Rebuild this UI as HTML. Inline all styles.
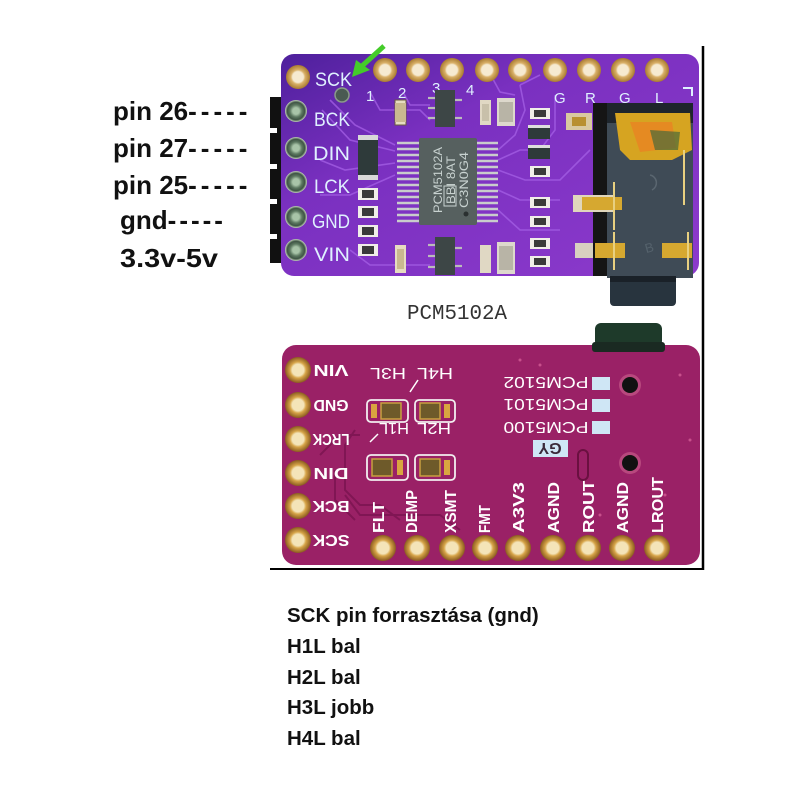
<!DOCTYPE html>
<html><head><meta charset="utf-8"><style>
html,body{margin:0;padding:0;background:#fff;}
svg{display:block;}
</style></head><body>
<svg width="800" height="800" viewBox="0 0 800 800" xmlns="http://www.w3.org/2000/svg">
<defs>
<linearGradient id="tg" x1="0" y1="0" x2="1" y2="1">
<stop offset="0" stop-color="#4e209c"/><stop offset="0.35" stop-color="#7a30c0"/><stop offset="1" stop-color="#8c3acc"/>
</linearGradient>
<radialGradient id="gold" cx="0.5" cy="0.5" r="0.5">
<stop offset="0.45" stop-color="#f6ead0"/><stop offset="0.6" stop-color="#d9b068"/><stop offset="1" stop-color="#a87a30"/>
</radialGradient>
<radialGradient id="gold2" cx="0.5" cy="0.5" r="0.5">
<stop offset="0.45" stop-color="#f4e4b8"/><stop offset="0.62" stop-color="#d6a448"/><stop offset="1" stop-color="#8a5a20"/>
</radialGradient>
<radialGradient id="grn" cx="0.5" cy="0.5" r="0.5">
<stop offset="0.3" stop-color="#a8c4a8"/><stop offset="0.55" stop-color="#5c7860"/><stop offset="0.8" stop-color="#3e5444"/><stop offset="1" stop-color="#c8d8c0"/>
</radialGradient>
</defs>
<rect width="800" height="800" fill="#fff"/>

<!-- left labels -->
<g font-family="Liberation Sans, sans-serif" font-weight="bold" font-size="26" fill="#111">
<text x="113" y="120">pin 26<tspan letter-spacing="4">-----</tspan></text>
<text x="113" y="157">pin 27<tspan letter-spacing="4">-----</tspan></text>
<text x="113" y="194">pin 25<tspan letter-spacing="4">-----</tspan></text>
<text x="120" y="229">gnd<tspan letter-spacing="3">-----</tspan></text>
<text x="120" y="267" textLength="98" lengthAdjust="spacingAndGlyphs">3.3v-5v</text>
</g>

<!-- header black strip -->
<rect x="270" y="97" width="14" height="166" fill="#111"/>
<g fill="#fff">
<rect x="270" y="128" width="7" height="5"/><rect x="270" y="164" width="7" height="5"/>
<rect x="270" y="199" width="7" height="5"/><rect x="270" y="234" width="7" height="5"/>
</g>

<!-- TOP BOARD -->
<rect x="281" y="54" width="418" height="222" rx="13" fill="url(#tg)"/>
<g stroke="#a560e6" stroke-width="1.6" fill="none" opacity="0.75">
<polyline points="330,100 355,125 395,145"/>
<polyline points="322,110 350,140 395,151"/>
<polyline points="320,160 345,170 395,163"/>
<polyline points="320,195 350,195 395,175"/>
<polyline points="370,92 380,110 420,110 430,120"/>
<polyline points="403,92 410,105 430,105"/>
<polyline points="498,150 515,135 525,110 520,85"/>
<polyline points="498,160 520,150 540,150 555,130 555,95"/>
<polyline points="498,170 525,180 560,180 590,150"/>
<polyline points="498,190 520,200 560,200"/>
<polyline points="498,210 520,230 560,230"/>
<polyline points="350,250 370,265 430,265"/>
<polyline points="520,85 540,75"/>
<polyline points="488,70 500,92 515,95"/>
</g>

<g>
<circle cx="298" cy="77" r="12" fill="url(#gold)"/>
<circle cx="385" cy="70" r="12" fill="url(#gold)"/>
<circle cx="418" cy="70" r="12" fill="url(#gold)"/>
<circle cx="452" cy="70" r="12" fill="url(#gold)"/>
<circle cx="487" cy="70" r="12" fill="url(#gold)"/>
<circle cx="520" cy="70" r="12" fill="url(#gold)"/>
<circle cx="555" cy="70" r="12" fill="url(#gold)"/>
<circle cx="589" cy="70" r="12" fill="url(#gold)"/>
<circle cx="623" cy="70" r="12" fill="url(#gold)"/>
<circle cx="657" cy="70" r="12" fill="url(#gold)"/>
</g>
<g>
<circle cx="296" cy="111" r="11" fill="url(#grn)"/>
<circle cx="296" cy="148" r="11" fill="url(#grn)"/>
<circle cx="296" cy="182" r="11" fill="url(#grn)"/>
<circle cx="296" cy="217" r="11" fill="url(#grn)"/>
<circle cx="296" cy="250" r="11" fill="url(#grn)"/>
</g>
<circle cx="342" cy="95" r="7" fill="#4a5a52" stroke="#8a9a8a" stroke-width="1.5"/>

<g font-family="Liberation Sans, sans-serif" font-size="19" fill="#dff0ff">
<text x="315" y="86" textLength="37" lengthAdjust="spacingAndGlyphs">SCK</text>
<text x="314" y="126" textLength="36" lengthAdjust="spacingAndGlyphs">BCK</text>
<text x="313" y="160" textLength="37" lengthAdjust="spacingAndGlyphs">DIN</text>
<text x="314" y="193" textLength="36" lengthAdjust="spacingAndGlyphs">LCK</text>
<text x="312" y="228" textLength="38" lengthAdjust="spacingAndGlyphs">GND</text>
<text x="314" y="261" textLength="36" lengthAdjust="spacingAndGlyphs">VIN</text>
</g>
<g font-family="Liberation Sans, sans-serif" font-size="15" fill="#dff0ff">
<text x="366" y="101">1</text>
<text x="398" y="98">2</text>
<text x="432" y="93">3</text>
<text x="466" y="95">4</text>
<text x="554" y="103">G</text>
<text x="585" y="103">R</text>
<text x="619" y="103">G</text>
<text x="655" y="103">L</text>
</g>
<polyline points="683,88 692,88 692,96" fill="none" stroke="#dff0ff" stroke-width="2"/>

<!-- IC -->
<g stroke="#c9cccc" stroke-width="2.6">
<line x1="397" y1="143" x2="420" y2="143"/><line x1="397" y1="149" x2="420" y2="149"/>
<line x1="397" y1="155" x2="420" y2="155"/><line x1="397" y1="161" x2="420" y2="161"/>
<line x1="397" y1="167" x2="420" y2="167"/><line x1="397" y1="173" x2="420" y2="173"/>
<line x1="397" y1="179" x2="420" y2="179"/><line x1="397" y1="185" x2="420" y2="185"/>
<line x1="397" y1="191" x2="420" y2="191"/><line x1="397" y1="197" x2="420" y2="197"/>
<line x1="397" y1="203" x2="420" y2="203"/><line x1="397" y1="209" x2="420" y2="209"/>
<line x1="397" y1="215" x2="420" y2="215"/><line x1="397" y1="221" x2="420" y2="221"/>
<line x1="476" y1="143" x2="498" y2="143"/><line x1="476" y1="149" x2="498" y2="149"/>
<line x1="476" y1="155" x2="498" y2="155"/><line x1="476" y1="161" x2="498" y2="161"/>
<line x1="476" y1="167" x2="498" y2="167"/><line x1="476" y1="173" x2="498" y2="173"/>
<line x1="476" y1="179" x2="498" y2="179"/><line x1="476" y1="185" x2="498" y2="185"/>
<line x1="476" y1="191" x2="498" y2="191"/><line x1="476" y1="197" x2="498" y2="197"/>
<line x1="476" y1="203" x2="498" y2="203"/><line x1="476" y1="209" x2="498" y2="209"/>
<line x1="476" y1="215" x2="498" y2="215"/><line x1="476" y1="221" x2="498" y2="221"/>
</g>
<rect x="419" y="138" width="58" height="87" rx="2" fill="#56605f"/>
<circle cx="466" cy="214" r="2.5" fill="#2a3030"/>
<g font-family="Liberation Sans, sans-serif" font-size="12" fill="#c8d2d0" text-anchor="middle">
<text transform="translate(442,180) rotate(-90)" textLength="66" lengthAdjust="spacingAndGlyphs">PCM5102A</text>
<text transform="translate(455,180) rotate(-90)" textLength="48" lengthAdjust="spacingAndGlyphs">BBI 8AT</text>
<text transform="translate(468,180) rotate(-90)" textLength="56" lengthAdjust="spacingAndGlyphs">C3N0G4</text>
</g>
<rect x="444" y="186" width="12" height="20" fill="none" stroke="#c8d2d0" stroke-width="1"/>

<g stroke="#bbbbbb" stroke-width="2.2">
<line x1="428" y1="98" x2="436" y2="98"/><line x1="428" y1="108" x2="436" y2="108"/><line x1="428" y1="118" x2="436" y2="118"/>
<line x1="454" y1="100" x2="462" y2="100"/><line x1="454" y1="118" x2="462" y2="118"/>
<line x1="428" y1="245" x2="436" y2="245"/><line x1="428" y1="256" x2="436" y2="256"/><line x1="428" y1="267" x2="436" y2="267"/>
<line x1="454" y1="248" x2="462" y2="248"/><line x1="454" y1="266" x2="462" y2="266"/>
</g>
<rect x="435" y="90" width="20" height="37" fill="#3d4646"/>
<rect x="435" y="237" width="20" height="38" fill="#3d4646"/>

<g>
<rect x="395" y="100" width="11" height="25" fill="#e6dcc0" stroke="#6a5a40" stroke-width="1"/>
<rect x="395" y="103" width="11" height="19" fill="#c9b890"/>
<rect x="480" y="100" width="11" height="25" fill="#e0d8c4"/>
<rect x="482" y="104" width="7" height="17" fill="#c8c0aa"/>
<rect x="497" y="98" width="18" height="28" fill="#ddd8cc"/>
<rect x="499" y="102" width="14" height="20" fill="#b8b4a6"/>
<rect x="395" y="245" width="11" height="28" fill="#e6dcc0"/>
<rect x="397" y="249" width="7" height="20" fill="#c9b890"/>
<rect x="480" y="245" width="11" height="28" fill="#e0d8c4"/>
<rect x="497" y="242" width="18" height="32" fill="#ddd8cc"/>
<rect x="499" y="246" width="14" height="24" fill="#b8b4a6"/>

<rect x="358" y="135" width="20" height="45" fill="#2e3a3a"/>
<rect x="358" y="135" width="20" height="5" fill="#d8d8d8"/><rect x="358" y="175" width="20" height="5" fill="#d8d8d8"/>
<rect x="358" y="188" width="20" height="12" fill="#f0eee8"/><rect x="362" y="190" width="12" height="8" fill="#3a3a3a"/>
<rect x="358" y="206" width="20" height="12" fill="#f0eee8"/><rect x="362" y="208" width="12" height="8" fill="#3a3a3a"/>
<rect x="358" y="225" width="20" height="12" fill="#f0eee8"/><rect x="362" y="227" width="12" height="8" fill="#3a3a3a"/>
<rect x="358" y="244" width="20" height="12" fill="#f0eee8"/><rect x="362" y="246" width="12" height="8" fill="#3a3a3a"/>

<rect x="530" y="108" width="20" height="11" fill="#f0eee8"/><rect x="534" y="110" width="12" height="7" fill="#3a3a3a"/>
<rect x="528" y="125" width="22" height="14" fill="#2e3a3a"/><rect x="528" y="125" width="22" height="3" fill="#ddd"/>
<rect x="528" y="145" width="22" height="14" fill="#2e3a3a"/><rect x="528" y="145" width="22" height="3" fill="#ddd"/>
<rect x="530" y="166" width="20" height="11" fill="#f0eee8"/><rect x="534" y="168" width="12" height="7" fill="#3a3a3a"/>
<rect x="530" y="197" width="20" height="11" fill="#f0eee8"/><rect x="534" y="199" width="12" height="7" fill="#3a3a3a"/>
<rect x="530" y="216" width="20" height="11" fill="#f0eee8"/><rect x="534" y="218" width="12" height="7" fill="#3a3a3a"/>
<rect x="530" y="238" width="20" height="11" fill="#f0eee8"/><rect x="534" y="240" width="12" height="7" fill="#3a3a3a"/>
<rect x="530" y="256" width="20" height="11" fill="#f0eee8"/><rect x="534" y="258" width="12" height="7" fill="#3a3a3a"/>
</g>

<!-- Audio jack -->
<rect x="593" y="103" width="14" height="173" fill="#151515"/>
<rect x="607" y="103" width="86" height="175" fill="#3f4b56"/>
<rect x="607" y="103" width="86" height="20" fill="#1e252c"/>
<rect x="610" y="276" width="66" height="30" rx="4" fill="#28343e"/>
<rect x="610" y="276" width="66" height="6" fill="#1a2128"/>
<path d="M615 113 L690 113 L692 150 L672 160 L630 160 L620 150 Z" fill="#d6a421"/>
<path d="M630 122 L672 122 L676 148 L640 152 Z" fill="#e58a22"/>
<path d="M650 130 L680 132 L678 150 L655 150 Z" fill="#4a6a3a" opacity="0.7"/>
<rect x="566" y="113" width="26" height="17" fill="#d9c9a0"/>
<rect x="572" y="117" width="14" height="9" fill="#b89030"/>
<rect x="573" y="195" width="40" height="17" fill="#e0d6bc"/>
<rect x="582" y="197" width="40" height="13" fill="#d6a830"/>
<rect x="575" y="243" width="18" height="15" fill="#d8d0c0"/>
<rect x="595" y="243" width="30" height="15" fill="#d6a830"/>
<rect x="662" y="243" width="30" height="15" fill="#d6a830"/>
<g stroke="#e8d080" stroke-width="2">
<line x1="614" y1="182" x2="614" y2="230"/>
<line x1="614" y1="232" x2="614" y2="270"/>
<line x1="688" y1="232" x2="688" y2="270"/>
<line x1="684" y1="150" x2="684" y2="205"/>
</g>
<path d="M650 175 A8 8 0 0 1 652 190" fill="none" stroke="#5a6670" stroke-width="1.5"/>
<text x="645" y="252" font-family="Liberation Sans, sans-serif" font-size="13" fill="#55626c" transform="rotate(-15 650 248)">B</text>

<!-- green arrow -->
<line x1="384" y1="46" x2="362" y2="66" stroke="#44cc2a" stroke-width="5"/>
<polygon points="352,77 356,60 370,70" fill="#44cc2a"/>

<text x="407" y="319" font-family="Liberation Mono, monospace" font-size="21" fill="#333" textLength="100" lengthAdjust="spacingAndGlyphs">PCM5102A</text>

<!-- BOTTOM BOARD -->
<rect x="595" y="323" width="67" height="24" rx="6" fill="#1e3a2a"/>
<rect x="282" y="345" width="418" height="220" rx="14" fill="#9a2166"/>
<rect x="592" y="342" width="73" height="10" rx="3" fill="#1a2a22"/>
<g stroke="#7a1450" stroke-width="2" fill="none" opacity="0.8">
<polyline points="320,455 340,435 360,435"/>
<polyline points="355,430 345,445 345,490 360,505 380,505 400,520"/>
<polyline points="345,495 360,515 440,515 460,530"/>
<polyline points="335,470 335,500 355,520"/>
</g>
<g>
<circle cx="298" cy="370" r="13" fill="url(#gold2)"/>
<circle cx="298" cy="405" r="13" fill="url(#gold2)"/>
<circle cx="298" cy="439" r="13" fill="url(#gold2)"/>
<circle cx="298" cy="473" r="13" fill="url(#gold2)"/>
<circle cx="298" cy="506" r="13" fill="url(#gold2)"/>
<circle cx="298" cy="540" r="13" fill="url(#gold2)"/>
</g>
<g>
<circle cx="383" cy="548" r="13" fill="url(#gold2)"/>
<circle cx="417" cy="548" r="13" fill="url(#gold2)"/>
<circle cx="452" cy="548" r="13" fill="url(#gold2)"/>
<circle cx="485" cy="548" r="13" fill="url(#gold2)"/>
<circle cx="518" cy="548" r="13" fill="url(#gold2)"/>
<circle cx="553" cy="548" r="13" fill="url(#gold2)"/>
<circle cx="588" cy="548" r="13" fill="url(#gold2)"/>
<circle cx="622" cy="548" r="13" fill="url(#gold2)"/>
<circle cx="657" cy="548" r="13" fill="url(#gold2)"/>
</g>
<g font-family="Liberation Sans, sans-serif" font-weight="bold" font-size="16" fill="#fff" text-anchor="middle">
<text transform="translate(331,376) rotate(180) translate(0,11)" textLength="35" lengthAdjust="spacingAndGlyphs">VIN</text>
<text transform="translate(331,411) rotate(180) translate(0,11)" textLength="35" lengthAdjust="spacingAndGlyphs">GND</text>
<text transform="translate(331,445) rotate(180) translate(0,11)" textLength="37" lengthAdjust="spacingAndGlyphs">LRCK</text>
<text transform="translate(331,479) rotate(180) translate(0,11)" textLength="35" lengthAdjust="spacingAndGlyphs">DIN</text>
<text transform="translate(331,512) rotate(180) translate(0,11)" textLength="37" lengthAdjust="spacingAndGlyphs">BCK</text>
<text transform="translate(331,546) rotate(180) translate(0,11)" textLength="37" lengthAdjust="spacingAndGlyphs">SCK</text>
</g>
<g font-family="Liberation Sans, sans-serif" font-weight="bold" font-size="16" fill="#fff">
<text transform="translate(384,533) rotate(-90)" textLength="31" lengthAdjust="spacingAndGlyphs">FLT</text>
<text transform="translate(417,533) rotate(-90)" textLength="43" lengthAdjust="spacingAndGlyphs">DEMP</text>
<text transform="translate(456,533) rotate(-90)" textLength="43" lengthAdjust="spacingAndGlyphs">XSMT</text>
<text transform="translate(490,533) rotate(-90)" textLength="28" lengthAdjust="spacingAndGlyphs">FMT</text>
<text transform="translate(524,533) rotate(-90)" textLength="51" lengthAdjust="spacingAndGlyphs">A3V3</text>
<text transform="translate(559,533) rotate(-90)" textLength="51" lengthAdjust="spacingAndGlyphs">AGND</text>
<text transform="translate(594,533) rotate(-90)" textLength="53" lengthAdjust="spacingAndGlyphs">ROUT</text>
<text transform="translate(628,533) rotate(-90)" textLength="51" lengthAdjust="spacingAndGlyphs">AGND</text>
<text transform="translate(663,533) rotate(-90)" textLength="56" lengthAdjust="spacingAndGlyphs">LROUT</text>
</g>
<g font-family="Liberation Sans, sans-serif" font-size="16" fill="#fff" text-anchor="middle">
<text transform="translate(388,379) rotate(180) translate(0,11)" textLength="36" lengthAdjust="spacingAndGlyphs">H3L</text>
<text transform="translate(435,379) rotate(180) translate(0,11)" textLength="36" lengthAdjust="spacingAndGlyphs">H4L</text>
<text transform="translate(394,434) rotate(180) translate(0,11)" textLength="30" lengthAdjust="spacingAndGlyphs">H1L</text>
<text transform="translate(434,434) rotate(180) translate(0,11)" textLength="34" lengthAdjust="spacingAndGlyphs">H2L</text>
</g>
<line x1="410" y1="392" x2="418" y2="380" stroke="#fff" stroke-width="1.5"/>
<line x1="370" y1="442" x2="378" y2="434" stroke="#fff" stroke-width="1.5"/>
<g fill="none" stroke="#f2eef0" stroke-width="1.8">
<rect x="367" y="400" width="41" height="22" rx="4"/>
<rect x="415" y="400" width="40" height="22" rx="4"/>
<rect x="367" y="455" width="41" height="25" rx="4"/>
<rect x="415" y="455" width="40" height="25" rx="4"/>
</g>
<g>
<rect x="371" y="404" width="6" height="14" fill="#d9a640"/><rect x="381" y="403" width="20" height="16" fill="#6e5a2a" stroke="#c8a040" stroke-width="1.5"/>
<rect x="420" y="403" width="20" height="16" fill="#6e5a2a" stroke="#c8a040" stroke-width="1.5"/><rect x="444" y="404" width="6" height="14" fill="#d9a640"/>
<rect x="372" y="459" width="20" height="17" fill="#6e5a2a" stroke="#c8a040" stroke-width="1.5"/><rect x="397" y="460" width="6" height="15" fill="#d9a640"/>
<rect x="420" y="459" width="20" height="17" fill="#6e5a2a" stroke="#c8a040" stroke-width="1.5"/><rect x="444" y="460" width="6" height="15" fill="#d9a640"/>
</g>
<g font-family="Liberation Sans, sans-serif" font-size="16" fill="#fff" text-anchor="middle">
<text transform="translate(546,383) rotate(180) translate(0,6)" textLength="85" lengthAdjust="spacingAndGlyphs">PCM5102</text>
<text transform="translate(546,405) rotate(180) translate(0,6)" textLength="85" lengthAdjust="spacingAndGlyphs">PCM5101</text>
<text transform="translate(546,428) rotate(180) translate(0,6)" textLength="85" lengthAdjust="spacingAndGlyphs">PCM5100</text>
</g>
<g fill="#cfe6f5">
<rect x="592" y="377" width="18" height="13"/>
<rect x="592" y="399" width="18" height="13"/>
<rect x="592" y="421" width="18" height="13"/>
<rect x="533" y="440" width="35" height="17"/>
</g>
<text transform="translate(550,449) rotate(180) translate(0,6)" font-family="Liberation Sans, sans-serif" font-weight="bold" font-size="16" fill="#3a2a3a" text-anchor="middle">GY</text>
<rect x="578" y="450" width="10" height="30" rx="5" fill="none" stroke="#6a1040" stroke-width="2"/>
<circle cx="630" cy="385" r="11" fill="#b8487e"/><circle cx="630" cy="385" r="8" fill="#111"/>
<circle cx="630" cy="463" r="11" fill="#b8487e"/><circle cx="630" cy="463" r="8" fill="#111"/>
<g fill="#c8508c">
<circle cx="520" cy="360" r="1.5"/><circle cx="540" cy="365" r="1.5"/><circle cx="680" cy="375" r="1.5"/>
<circle cx="690" cy="440" r="1.5"/><circle cx="665" cy="495" r="1.5"/><circle cx="600" cy="515" r="1.5"/>
</g>

<line x1="703" y1="46" x2="703" y2="570" stroke="#000" stroke-width="2.5"/>
<line x1="270" y1="569" x2="704" y2="569" stroke="#000" stroke-width="2"/>

<g font-family="Liberation Sans, sans-serif" font-weight="bold" font-size="20.5" fill="#111">
<text x="287" y="622">SCK pin forrasztása (gnd)</text>
<text x="287" y="653">H1L bal</text>
<text x="287" y="684">H2L bal</text>
<text x="287" y="714">H3L jobb</text>
<text x="287" y="745">H4L bal</text>
</g>
</svg>
</body></html>
